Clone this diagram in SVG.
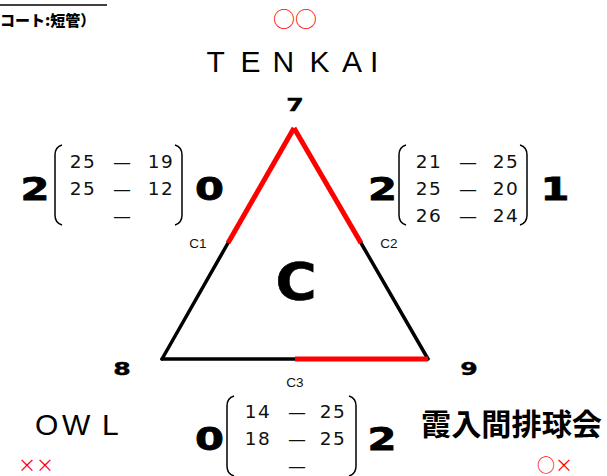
<svg xmlns="http://www.w3.org/2000/svg" width="607" height="476" viewBox="0 0 607 476">
<style>
.num{font-family:"DejaVu Sans",sans-serif;font-size:18.5px;fill:#111;text-anchor:middle;letter-spacing:1.5px}
.dash{font-family:"DejaVu Sans",sans-serif;font-size:18px;fill:#111;text-anchor:middle}
.big{font-family:"DejaVu Sans",sans-serif;font-weight:bold;font-size:32px;fill:#000;stroke:#000;stroke-width:0.8;text-anchor:middle}
.vtx{font-family:"DejaVu Sans",sans-serif;font-weight:bold;font-size:18px;fill:#000;stroke:#000;stroke-width:0.4;text-anchor:middle}
.lbl{font-family:"Liberation Sans",sans-serif;font-size:13.5px;fill:#111;text-anchor:middle}
.team{font-family:"Liberation Sans",sans-serif;font-size:30px;fill:#000}
.mark{font-family:"Noto Sans CJK JP",sans-serif;fill:#ff0000}
.par{fill:none;stroke:#000;stroke-width:1.5}
.blk{stroke:#000;stroke-width:3.5;stroke-linecap:round;fill:none}
.red{stroke:#ff0000;stroke-width:5;stroke-linecap:butt;fill:none}
</style>
<rect width="607" height="476" fill="#fff"/>
<g id="header">
<line x1="0" y1="5" x2="107" y2="5" stroke="#000" stroke-width="1.5"/>
<text x="0" y="26" font-family="Noto Sans CJK JP,sans-serif" font-weight="900" font-size="15" fill="#000">コート:短管）</text>
</g>
<g id="connectors">
<line class="blk" x1="228" y1="243" x2="162" y2="359"/>
<line class="blk" x1="361" y1="243" x2="428" y2="359"/>
<line class="blk" x1="162" y1="359" x2="295" y2="359"/>
<line class="red" x1="294" y1="128" x2="228" y2="243"/>
<line class="red" x1="294" y1="128" x2="361" y2="243"/>
<line class="red" x1="295" y1="359" x2="428" y2="359"/>
</g>
<g id="group-label"><text transform="translate(296,300) scale(1.1,1)" font-family="DejaVu Sans,sans-serif" font-weight="bold" font-size="51" stroke="#000" stroke-width="0.6" text-anchor="middle">C</text></g>
<g id="node-7"><text class="vtx" transform="translate(295,111) scale(1.4,1)">7</text></g>
<g id="node-8"><text class="vtx" transform="translate(122,375) scale(1.4,1)">8</text></g>
<g id="node-9"><text class="vtx" transform="translate(469,375) scale(1.4,1)">9</text></g>
<g id="match-c1">
<text class="lbl" x="198" y="248">C1</text>
<text class="big" transform="translate(35,200) scale(1.3,1)">2</text>
<path class="par" d="M62,145 Q55,147 55,155 L55,215 Q55,223 62,225"/>
<text class="num" x="83" y="168">25</text><text class="dash" x="122" y="168">—</text><text class="num" x="161" y="168">19</text>
<text class="num" x="83" y="195">25</text><text class="dash" x="122" y="195">—</text><text class="num" x="161" y="195">12</text>
<text class="dash" x="122" y="222">—</text>
<path class="par" d="M175,145 Q182,147 182,155 L182,215 Q182,223 175,225"/>
<text class="big" transform="translate(209.5,200) scale(1.3,1)">0</text>
</g>
<g id="match-c2">
<text class="lbl" x="389" y="248">C2</text>
<text class="big" transform="translate(382.5,200) scale(1.3,1)">2</text>
<path class="par" d="M406,145 Q399,147 399,155 L399,215 Q399,223 406,225"/>
<text class="num" x="429" y="168">21</text><text class="dash" x="468" y="168">—</text><text class="num" x="506" y="168">25</text>
<text class="num" x="429" y="195">25</text><text class="dash" x="468" y="195">—</text><text class="num" x="506" y="195">20</text>
<text class="num" x="429" y="222">26</text><text class="dash" x="468" y="222">—</text><text class="num" x="506" y="222">24</text>
<path class="par" d="M520,145 Q527,147 527,155 L527,215 Q527,223 520,225"/>
<text class="big" transform="translate(555,200) scale(1.3,1)">1</text>
</g>
<g id="match-c3">
<text class="lbl" x="295" y="387">C3</text>
<text class="big" transform="translate(209.5,450) scale(1.3,1)">0</text>
<path class="par" d="M234,396 Q227,398 227,406 L227,466 Q227,474 234,476"/>
<text class="num" x="258" y="418">14</text><text class="dash" x="297" y="418">—</text><text class="num" x="333" y="418">25</text>
<text class="num" x="258" y="445">18</text><text class="dash" x="297" y="445">—</text><text class="num" x="333" y="445">25</text>
<text class="dash" x="297" y="472">—</text>
<path class="par" d="M349,396 Q356,398 356,406 L356,466 Q356,474 349,476"/>
<text class="big" transform="translate(382,450) scale(1.3,1)">2</text>
</g>
<g id="team-tenkai">
<text class="mark" x="295" y="27" font-size="22" text-anchor="middle">○○</text>
<text class="team" x="206.5 240.5 272.5 309.5 342 370" y="72">TENKAI</text>
</g>
<g id="team-owl">
<text class="team" x="35 62 102" y="435">OWL</text>
<text class="mark" x="36" y="472" font-size="18" text-anchor="middle">××</text>
</g>
<g id="team-kasumi">
<text x="421" y="435" font-family="Noto Sans CJK JP,sans-serif" font-weight="bold" font-size="30" textLength="181" lengthAdjust="spacingAndGlyphs" fill="#000">霞入間排球会</text>
<text class="mark" x="555" y="472" font-size="18" text-anchor="middle">○×</text>
</g>
</svg>
